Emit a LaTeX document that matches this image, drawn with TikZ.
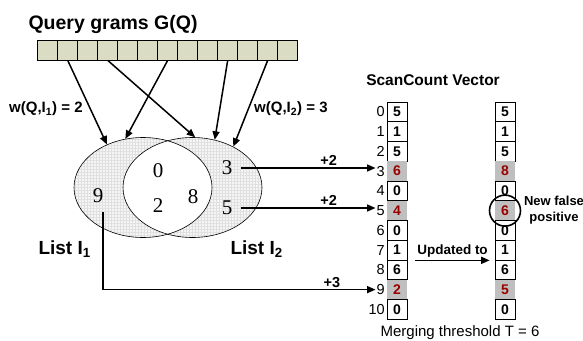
\documentclass[tikz,border=0pt]{standalone}
\usepackage{fontspec}
\setmainfont{Liberation Sans}
\newfontfamily\venfont{Liberation Serif}
\usetikzlibrary{arrows.meta,positioning,calc,patterns.meta,shapes.geometric}
\definecolor{gramfill}{RGB}{218,220,196}
\definecolor{darkred}{RGB}{153,0,0}

\begin{document}
\begin{tikzpicture}[x=1pt,y=-1pt,
    arr/.style={-{Triangle[length=8.5pt,width=7pt]}, line width=1.5pt},
    gram/.style={draw, line width=0.7pt, fill=gramfill, minimum width=20pt, minimum height=20pt, inner sep=0pt},
    cell/.style={draw, line width=0.7pt, minimum width=20pt, minimum height=19.75pt, inner sep=0pt, font=\fontsize{14}{14}\selectfont\bfseries},
    hit/.style={cell, draw=none, fill=gray!50, text=darkred},
    idx/.style={anchor=east, inner sep=1pt, font=\fontsize{14.5}{15}\selectfont},
    elem/.style={font=\venfont\fontsize{21}{21}\selectfont, inner sep=1pt},
    lbl/.style={inner sep=1pt, font=\fontsize{15}{15}\selectfont\bfseries},
    inc/.style={inner sep=1.5pt, font=\fontsize{14.5}{15}\selectfont\bfseries}]
    \useasboundingbox (0,0) rectangle (583,340);

    % Query grams
    \node[anchor=base west, font=\fontsize{19.5}{20}\selectfont\bfseries] (title) at (25,29) {Query grams G(Q)};
    \foreach \i in {0,...,12}
        \node[gram] (q\i) at ({47.7+20*\i},50) {};

    % Inverted lists
    \fill[gray!8, even odd rule] (143,187.5) ellipse (69 and 50) (192.5,187.5) ellipse (69.5 and 50);
    \fill[pattern={Hatch[angle=0,distance=3pt,line width=0.25pt]}, pattern color=gray!25, even odd rule]
        (143,187.5) ellipse (69 and 50) (192.5,187.5) ellipse (69.5 and 50);
    \node[draw, ellipse, line width=0.6pt, minimum width=138pt, minimum height=100pt, inner sep=0pt] (L1) at (143,187.5) {};
    \node[draw, ellipse, line width=0.6pt, minimum width=139pt, minimum height=100pt, inner sep=0pt] (L2) at (192.5,187.5) {};
    \node[elem] (e0) at (158,171) {0};
    \node[elem] (e2) at (158,206) {2};
    \node[elem] (e8) at (193,197) {8};
    \node[elem] (e9) at (98,196) {9};
    \node[elem] (e3) at (227,168) {3};
    \node[elem] (e5) at (227,208) {5};
    \node[anchor=base west, font=\fontsize{19}{19}\selectfont\bfseries] (n1) at (35,254) {List I\textsubscript{1}};
    \node[anchor=base west, font=\fontsize{19}{19}\selectfont\bfseries] (n2) at (227,254) {List I\textsubscript{2}};

    % Grams to lists
    \node[lbl, anchor=west] (w1) at (8,109) {w(Q,I\textsubscript{1}) = 2};
    \node[lbl, anchor=west] (w2) at (253,109) {w(Q,I\textsubscript{2}) = 3};
    \draw[arr] (q1.south) -- (L1.130);
    \draw[arr] (q3.south) -- (L2.87);
    \draw[arr] (q6.south) -- (L1.110);
    \draw[arr] (q9.south) -- (L2.65);
    \draw[arr] (q11.south) -- (L2.45);

    % ScanCount vectors
    \node[font=\fontsize{15.5}{16}\selectfont\bfseries] (sc) at (433,80) {ScanCount Vector};
    \foreach \i/\a/\b/\s in {0/5/5/cell,1/1/1/cell,2/5/5/cell,3/6/8/hit,4/0/0/cell,5/4/6/hit,
                              6/0/0/cell,7/1/1/cell,8/6/6/cell,9/2/5/hit,10/0/0/cell}{
        \node[\s] (a\i) at (397,{102+19.75*(\i+0.5)}) {\a};
        \node[\s] (b\i) at (505,{102+19.75*(\i+0.5)}) {\b};
        \node[idx] (i\i) at (386,{102+19.75*(\i+0.5)}) {\i};
    }

    % Increments
    \draw[arr] ([xshift=8pt]e3.east) -- (e3.east -| i3.west) node[inc, above, pos=0.65] {+2};
    \draw[arr] ([xshift=8pt]e5.east) -- (e5.east -| i5.west) node[inc, above, pos=0.65] {+2};
    \draw[arr] ([xshift=5pt,yshift=-8pt]e9.south) |- (i9.west) node[inc, above, pos=0.92] {+3};

    % Update
    \draw[arr] ([xshift=8pt]a7.south east) -- ([xshift=-5pt]b7.south west) node[inc, midway, above=1pt, font=\fontsize{13.5}{14}\selectfont\bfseries] {Updated to};
    \node[draw, circle, line width=1.6pt, minimum size=31pt, inner sep=0pt] (fp) at (b5) {};
    \node[inc, right=1pt of fp, align=center, font=\fontsize{13}{16}\selectfont\bfseries] (fpl) {New false\\positive};
    \node[font=\fontsize{15}{15}\selectfont] (mt) at (460,333) {Merging threshold T = 6};
\end{tikzpicture}
\end{document}
